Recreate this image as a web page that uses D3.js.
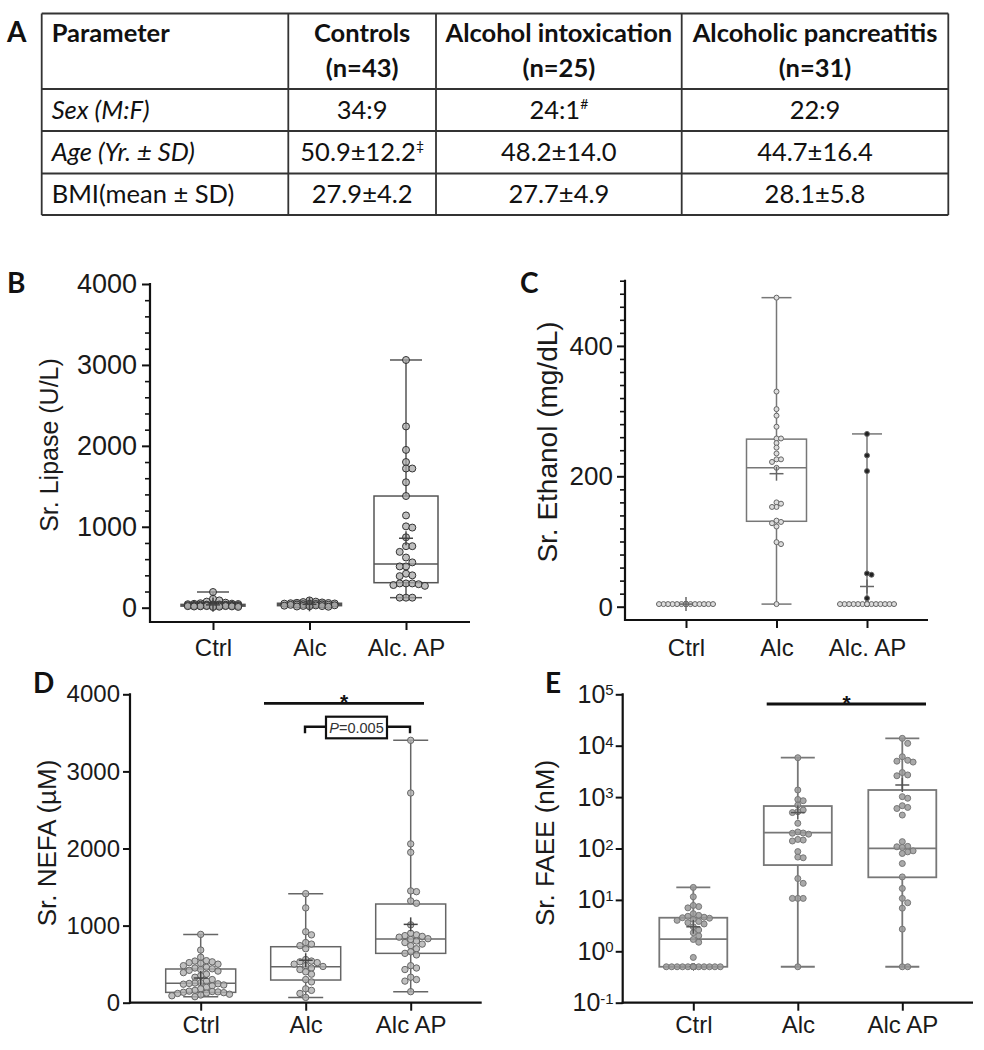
<!DOCTYPE html>
<html><head><meta charset="utf-8">
<script src="https://cdn.jsdelivr.net/npm/d3@7/dist/d3.min.js"></script>
<style>body{margin:0;background:#fff} svg{display:block}</style>
</head><body><svg id="fig" width="984" height="1050"></svg>
<script>
// ================= DATA =================
const tableHeader = ["Parameter", "Controls", "Alcohol intoxication", "Alcoholic pancreatitis"];
const tableN = ["", "(n=43)", "(n=25)", "(n=31)"];
const tableRowLabels = ["Sex (M:F)", "Age (Yr. ± SD)", "BMI(mean ± SD)"];
const tableSex = ["34:9", "24:1", "22:9"];
const tableSexMarks = ["", "#", ""];
const tableAge = ["50.9±12.2", "48.2±14.0", "44.7±16.4"];
const tableAgeMarks = ["‡", "", ""];
const tableBMI = ["27.9±4.2", "27.7±4.9", "28.1±5.8"];

const groupsBC = ["Ctrl", "Alc", "Alc. AP"];
const groupsDE = ["Ctrl", "Alc", "Alc AP"];

// B: serum lipase (U/L)
const lipaseTicks = [0, 1000, 2000, 3000, 4000];
const lipaseCtrl = [194,110,90,75,62,55,50,48,45,43,41,40,38,37,36,35,34,33,32,31,30,30,29,28,27,26,25,25,24,23,22,21,20,20,19,18,17,16,15,14,12,10,8];
const lipaseAlc = [90,75,70,65,60,58,55,52,50,48,45,42,40,38,36,35,33,30,28,25,22,20,18,15,12];
const lipaseAP = [3061,2240,1950,1800,1720,1720,1550,1380,1140,1005,990,870,760,760,690,620,560,510,510,420,400,390,300,300,300,290,280,270,124,124,124];
// [min, q1, median, q3, max, mean]
const lipaseStats = [[8,19,30,41,194,35],[12,25,40,55,90,42],[124,309,540,1380,3061,858]];

// C: serum ethanol (mg/dL)
const ethanolTicks = [0, 200, 400];
const ethanolCtrl = [4,4,4,4,4,4,4,4,4,4,4,4,4,4,4,4,4,4,4,4,4,4,4,4,4,4,4,4,4,4,4,4,4,4,4,4,4,4,4,4,4,4,4];
const ethanolAlc = [474,330,303,293,276,258,258,251,244,235,226,226,222,213,160,158,153,153,132,130,128,123,99,96,4];
const ethanolAP = [265,232,208,51,49,13,4,4,4,4,4,4,4,4,4,4,4,4,4,4,4,4,4,4,4,4,4,4,4,4,4];
const ethanolStats = [[4,4,4,4,4,4],[4,131,213,257,474,204],[4,4,4,4,265,31]];

// D: serum NEFA (µM)
const nefaTicks = [0, 1000, 2000, 3000, 4000];
const nefaCtrl = [886,683,590,545,540,530,520,510,500,480,460,450,440,430,420,410,390,370,350,330,300,280,260,255,250,245,240,230,220,200,180,160,150,145,140,135,130,125,120,110,100,90,78];
const nefaAlc = [1414,1230,920,880,780,760,740,700,560,540,530,520,500,480,470,450,430,400,370,300,270,180,160,120,69];
const nefaAP = [3403,2720,2060,1950,1450,1440,1320,1290,1010,900,880,870,860,850,830,820,800,780,760,740,700,660,640,620,480,450,430,330,300,280,143];
const nefaStats = [[78,134,251,437,886,320],[69,294,467,726,1414,551],[143,640,826,1280,3403,1016]];

// E: serum FAEE (nM), log scale
const faeeTicks = [0.1, 1, 10, 100, 1000, 10000, 100000];
const faeeCtrl = [0.5,0.5,0.5,0.5,0.5,0.5,0.5,0.5,0.5,0.5,0.5,0.5,0.5,0.5,0.5,0.5,0.5,0.5,0.5,0.5,0.76,1.5,1.7,2.0,2.3,2.6,3.0,3.4,3.6,3.8,4.0,4.2,4.4,4.5,4.6,4.8,5.0,5.4,7.0,7.4,7.8,11.5,17.5];
const faeeAlc = [5840,1374,900,850,700,560,520,500,309,210,200,198,190,150,146,140,87,68,66,26,21,10.7,10.7,10.7,0.5];
const faeeAP = [13900,11100,6100,5200,5000,4800,3000,2700,2600,1020,950,680,630,600,447,136,110,108,105,90,86,80,51,28,16.7,10.7,8.8,6.9,2.7,0.5,0.5];
const faeeStats = [[0.5,0.5,1.73,4.5,17.5,3.0],[0.5,47.6,203,670,5840,500],[0.5,27.5,101,1374,13900,1720]];

// ================= DRAWING =================
const svg = d3.select("#fig");
svg.append("rect").attr("width", 984).attr("height", 1050).attr("fill", "#fff");
const LAB = "Lato, 'Open Sans', sans-serif";
const ARIAL = "'Liberation Sans', Arial, Helvetica, sans-serif";

// ---- Panel A: table ----
const colX = [41.7, 288.3, 436, 681.7, 948.3];
const rowY = [13.5, 89, 131, 173.5, 215];
const TF = 25.5;
const tg = svg.append("g").attr("font-family", LAB).attr("fill", "#111");
rowY.forEach(yy => tg.append("line").attr("x1", colX[0]).attr("x2", colX[4]).attr("y1", yy).attr("y2", yy)
  .attr("stroke", "#333").attr("stroke-width", 1.8));
colX.forEach(xx => tg.append("line").attr("x1", xx).attr("x2", xx).attr("y1", rowY[0]).attr("y2", rowY[4])
  .attr("stroke", "#333").attr("stroke-width", 1.8));
const cellCx = i => (colX[i] + colX[i + 1]) / 2;
tableHeader.forEach((t, i) => {
  tg.append("text").attr("x", i === 0 ? colX[0] + 10 : cellCx(i)).attr("y", 42)
    .attr("text-anchor", i === 0 ? "start" : "middle").attr("font-weight", "bold").attr("font-size", TF).text(t);
});
tableN.forEach((t, i) => {
  if (!t) return;
  tg.append("text").attr("x", cellCx(i)).attr("y", 77).attr("text-anchor", "middle")
    .attr("font-weight", "bold").attr("font-size", TF).text(t);
});
const rowBase = [119, 161, 203];
tableRowLabels.forEach((t, r) => {
  tg.append("text").attr("x", colX[0] + 10).attr("y", rowBase[r]).attr("font-size", TF)
    .attr("font-style", r < 2 ? "italic" : "normal").text(t);
});
function cellText(vals, marks, r) {
  vals.forEach((t, i) => {
    const tx = tg.append("text").attr("x", cellCx(i + 1)).attr("y", rowBase[r]).attr("text-anchor", "middle")
      .attr("font-size", TF).text(t);
    if (marks && marks[i]) tx.append("tspan").attr("font-size", 14).attr("dy", -10).text(marks[i]);
  });
}
cellText(tableSex, tableSexMarks, 0);
cellText(tableAge, tableAgeMarks, 1);
cellText(tableBMI, null, 2);

// ---- panel letters ----
[["A", 7, 41.7], ["B", 7, 293], ["C", 520, 293], ["D", 33, 693], ["E", 545, 693]].forEach(([t, x, y]) =>
  svg.append("text").attr("x", x).attr("y", y).attr("font-family", LAB).attr("font-weight", "bold")
    .attr("font-size", 28).attr("fill", "#111").text(t));

// beeswarm-like horizontal spread (layout only)
function swarm(vals, y, r, half) {
  const step = 2 * r * 0.9, maxK = Math.floor(half / step);
  const order = d3.range(vals.length).sort((a, b) => d3.ascending(y(vals[a]), y(vals[b])));
  const cands = [0];
  for (let k = 1; k <= maxK; k++) cands.push(k * step, -k * step);
  const placed = [], xs = new Array(vals.length);
  for (const i of order) {
    const yy = y(vals[i]);
    let best = 0, bestD = -1;
    for (const c of cands) {
      let md = Infinity;
      for (const p of placed) { const d = Math.hypot(p[0] - c, p[1] - yy); if (d < md) md = d; }
      if (md >= step) { best = c; bestD = md; break; }
      if (md > bestD + 0.5) { bestD = md; best = c; }
    }
    xs[i] = best; placed.push([best, yy]);
  }
  return xs;
}

function drawPanel(cfg) {
  const g = svg.append("g").attr("font-family", ARIAL);
  const y = (cfg.log ? d3.scaleLog() : d3.scaleLinear()).domain(cfg.yDomain).range(cfg.yRange);
  const x = d3.scalePoint().domain(cfg.groups).range(cfg.xRange);

  if (cfg.minor) {
    const mg = g.append("g").attr("transform", `translate(${cfg.axisX},0)`)
      .call(d3.axisLeft(y).tickValues(cfg.minor).tickSize(cfg.minorSize).tickFormat(""));
    mg.select(".domain").remove();
    mg.selectAll("line").attr("stroke", "#111").attr("stroke-width", 1.6);
  }
  const ya = d3.axisLeft(y).tickValues(cfg.ticks).tickSize(cfg.tickSize).tickPadding(cfg.pad)
    .tickFormat(cfg.log ? () => "10" : d3.format("d"));
  const yg = g.append("g").attr("transform", `translate(${cfg.axisX},0)`).call(ya);
  yg.select(".domain").remove();
  yg.selectAll("line").attr("stroke", "#111").attr("stroke-width", 2);
  yg.selectAll("text").attr("font-size", cfg.tickFont).attr("fill", "#1a1a1a").attr("font-family", ARIAL);
  if (cfg.log) {
    yg.selectAll(".tick text").each(function (d) {
      d3.select(this).append("tspan").attr("dy", "-0.5em").attr("font-size", 15)
        .text(String(Math.round(Math.log10(d))));
    });
  }
  const xg = g.append("g").attr("transform", `translate(0,${cfg.xAxisY})`)
    .call(d3.axisBottom(x).tickSize(cfg.xTick).tickPadding(cfg.xPad));
  xg.select(".domain").remove();
  xg.selectAll("line").attr("stroke", "#111").attr("stroke-width", 2);
  xg.selectAll("text").attr("font-size", cfg.xFont).attr("fill", "#1a1a1a").attr("font-family", ARIAL);
  g.append("line").attr("x1", cfg.axisX).attr("x2", cfg.axisX).attr("y1", cfg.yRange[1] - 1).attr("y2", cfg.xAxisY + 1)
    .attr("stroke", "#111").attr("stroke-width", 2.2);
  g.append("line").attr("x1", cfg.axisX - 1).attr("x2", cfg.xEnd).attr("y1", cfg.xAxisY).attr("y2", cfg.xAxisY)
    .attr("stroke", "#111").attr("stroke-width", 2.2);
  g.append("text").attr("transform", `translate(${cfg.yLabelX},${cfg.yLabelY}) rotate(-90)`)
    .attr("text-anchor", "middle").attr("font-size", cfg.yLabelSize).attr("fill", "#1a1a1a").text(cfg.yLabel);

  const bw = cfg.boxW;
  cfg.groups.forEach((grp, gi) => {
    const [mn, q1, md, q3, mx, mean] = cfg.stats[gi];
    const cx = x(grp);
    const bg = g.append("g").attr("stroke", cfg.boxStroke).attr("stroke-width", cfg.boxSW).attr("fill", "none");
    bg.append("rect").attr("x", cx - bw / 2).attr("y", y(q3)).attr("width", bw).attr("height", Math.max(0, y(q1) - y(q3)));
    bg.append("line").attr("x1", cx - bw / 2).attr("x2", cx + bw / 2).attr("y1", y(md)).attr("y2", y(md));
    bg.append("line").attr("x1", cx).attr("x2", cx).attr("y1", y(q3)).attr("y2", y(mx));
    bg.append("line").attr("x1", cx).attr("x2", cx).attr("y1", y(q1)).attr("y2", y(mn));
    bg.append("line").attr("x1", cx - bw / 4).attr("x2", cx + bw / 4).attr("y1", y(mx)).attr("y2", y(mx));
    bg.append("line").attr("x1", cx - bw / 4).attr("x2", cx + bw / 4).attr("y1", y(mn)).attr("y2", y(mn));
    const vals = cfg.values[gi];
    const xs = swarm(vals, y, cfg.r, bw / 2 - cfg.r);
    g.append("g").selectAll("circle").data(vals).join("circle")
      .attr("cx", (d, i) => cx + xs[i]).attr("cy", d => y(d)).attr("r", cfg.r)
      .attr("fill", d => cfg.fill(d, gi)).attr("fill-opacity", cfg.fillOpacity)
      .attr("stroke", cfg.stroke).attr("stroke-width", 1);
    const mg = g.append("g").attr("stroke", cfg.meanStroke).attr("stroke-width", 1.5);
    mg.append("line").attr("x1", cx - 7).attr("x2", cx + 7).attr("y1", y(mean)).attr("y2", y(mean));
    mg.append("line").attr("x1", cx).attr("x2", cx).attr("y1", y(mean) - 7).attr("y2", y(mean) + 7);
  });
  return { g, x, y };
}

// B
drawPanel({
  groups: groupsBC, values: [lipaseCtrl, lipaseAlc, lipaseAP], stats: lipaseStats,
  yDomain: [0, 4000], yRange: [607.7, 284], axisX: 150, xAxisY: 622, xEnd: 470, xRange: [213, 406],
  ticks: lipaseTicks, minor: d3.range(0, 4001, 200).filter(v => v % 1000), minorSize: 5,
  tickSize: 8, pad: 5, tickFont: 27, xTick: 8, xPad: 9, xFont: 24,
  yLabel: "Sr. Lipase (U/L)", yLabelX: 58, yLabelY: 445, yLabelSize: 25,
  boxW: 64, boxStroke: "#555", boxSW: 1.5, r: 3.5, fill: () => "#a8a8a8", fillOpacity: 0.75, stroke: "#333", meanStroke: "#444"
});
// C
drawPanel({
  groups: groupsBC, values: [ethanolCtrl, ethanolAlc, ethanolAP], stats: ethanolStats,
  yDomain: [0, 500], yRange: [606.7, 280.7], axisX: 625, xAxisY: 620, xEnd: 928, xRange: [686, 867],
  ticks: ethanolTicks, minor: d3.range(0, 501, 20).filter(v => v % 200), minorSize: 5,
  tickSize: 8, pad: 4, tickFont: 26, xTick: 8, xPad: 11, xFont: 24,
  yLabel: "Sr. Ethanol (mg/dL)", yLabelX: 557, yLabelY: 442, yLabelSize: 28,
  boxW: 60, boxStroke: "#777", boxSW: 1.5, r: 2.5, fill: (d, gi) => (gi === 2 && d > 10 ? "#222" : "#ddd"), fillOpacity: 1, stroke: "#666", meanStroke: "#666"
});
// D
drawPanel({
  groups: groupsDE, values: [nefaCtrl, nefaAlc, nefaAP], stats: nefaStats,
  yDomain: [0, 4000], yRange: [1002.7, 694.3], axisX: 130, xAxisY: 1002.7, xEnd: 481.7, xRange: [200.7, 410.7],
  ticks: nefaTicks, minor: null, tickSize: 7, pad: 3, tickFont: 24, xTick: 8, xPad: 5, xFont: 24,
  yLabel: "Sr. NEFA (µM)", yLabelX: 56, yLabelY: 843, yLabelSize: 26,
  boxW: 70, boxStroke: "#666", boxSW: 1.5, r: 3.2, fill: () => "#b0b0b0", fillOpacity: 0.8, stroke: "#666", meanStroke: "#444"
});
// E
drawPanel({
  groups: groupsDE, values: [faeeCtrl, faeeAlc, faeeAP], stats: faeeStats, log: true,
  yDomain: [0.1, 100000], yRange: [1002.7, 694.3], axisX: 622.7, xAxisY: 1002.7, xEnd: 973, xRange: [693.3, 902.3],
  ticks: faeeTicks, minor: null, tickSize: 7, pad: 2, tickFont: 25, xTick: 8, xPad: 5, xFont: 24,
  yLabel: "Sr. FAEE (nM)", yLabelX: 554, yLabelY: 843, yLabelSize: 26,
  boxW: 68, boxStroke: "#777", boxSW: 1.8, r: 3, fill: () => "#9a9a9a", fillOpacity: 0.85, stroke: "#777", meanStroke: "#555"
});

// significance annotations
const ann = svg.append("g").attr("font-family", ARIAL);
function sigLine(x1, x2, yy, sx) {
  ann.append("line").attr("x1", x1).attr("x2", x2).attr("y1", yy).attr("y2", yy).attr("stroke", "#111").attr("stroke-width", 2.8);
  ann.append("text").attr("x", sx).attr("y", yy + 6).attr("text-anchor", "middle").attr("font-size", 21)
    .attr("font-weight", "bold").attr("fill", "#111").text("*");
}
sigLine(264, 424, 703.3, 344);
sigLine(766.7, 926, 704, 846.7);
ann.append("path").attr("d", "M305,733.3 V726.7 H410 V733.3").attr("fill", "none").attr("stroke", "#111").attr("stroke-width", 2.4);
ann.append("rect").attr("x", 326).attr("y", 716.7).attr("width", 61).attr("height", 21.6).attr("fill", "#fff")
  .attr("stroke", "#111").attr("stroke-width", 2.2);
const pt = ann.append("text").attr("x", 356.5).attr("y", 732.5).attr("text-anchor", "middle").attr("font-size", 14.5).attr("fill", "#333");
pt.append("tspan").attr("font-style", "italic").text("P");
pt.append("tspan").text("=0.005");
</script></body></html>
